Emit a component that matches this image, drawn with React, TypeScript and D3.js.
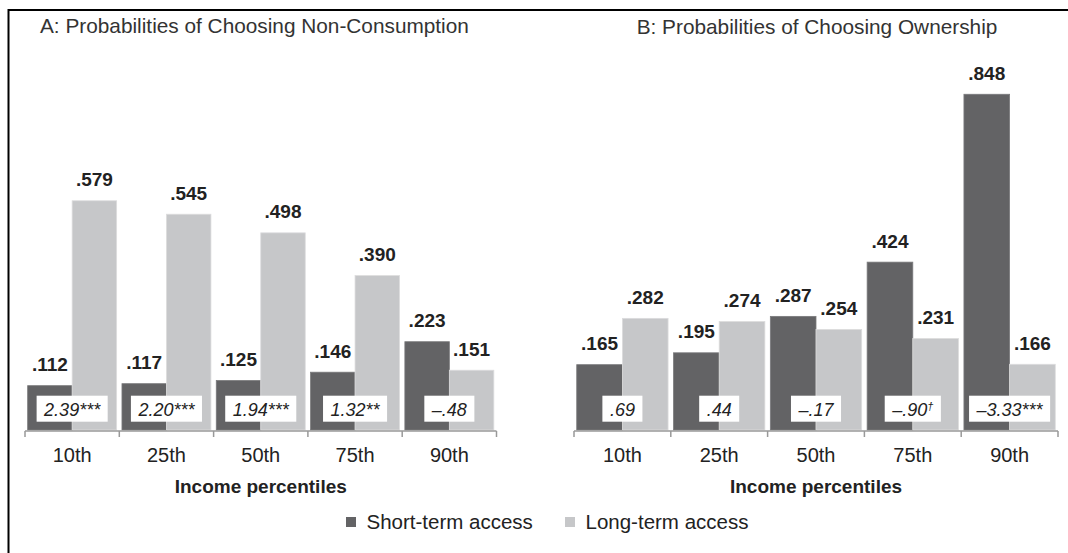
import React, { useEffect, useRef } from "react";
import * as d3 from "d3";

// income percentile groups
const categories = ["10th", "25th", "50th", "75th", "90th"];
const seriesNames = ["Short-term access", "Long-term access"];

// panel A: non-consumption
const nonConsShort = [0.112, 0.117, 0.125, 0.146, 0.223];
const nonConsLong = [0.579, 0.545, 0.498, 0.39, 0.151];
const nonConsDiff = ["2.39***", "2.20***", "1.94***", "1.32**", "\u2013.48"];

// panel B: ownership
const ownShort = [0.165, 0.195, 0.287, 0.424, 0.848];
const ownLong = [0.282, 0.274, 0.254, 0.231, 0.166];
const ownDiff = [".69", ".44", "\u2013.17", "\u2013.90\u2020", "\u20133.33***"];

const colors = ["#636365", "#c6c7c9"];
const FONT = "'Liberation Sans', Arial, sans-serif";

const fmt = (v: number) => d3.format(".3f")(v).replace(/^0/, "");

const App = () => {
  const ref = useRef<SVGSVGElement>(null);

  useEffect(() => {
    const svg = d3.select(ref.current);
    svg.selectAll("*").remove();

    // frame (only top/left visible)
    svg
      .append("rect")
      .attr("x", 8.5)
      .attr("y", 10)
      .attr("width", 1200)
      .attr("height", 700)
      .attr("fill", "none")
      .attr("stroke", "#000")
      .attr("stroke-width", 2);

    const y = d3.scaleLinear().domain([0, 1]).range([430, 34.1]);

    const panels = [
      {
        title: "A: Probabilities of Choosing Non-Consumption",
        titleX: 40,
        titleY: 33,
        range: [25, 496.5],
        short: nonConsShort,
        long: nonConsLong,
        diff: nonConsDiff,
      },
      {
        title: "B: Probabilities of Choosing Ownership",
        titleX: 636.7,
        titleY: 33.5,
        range: [574, 1058],
        short: ownShort,
        long: ownLong,
        diff: ownDiff,
      },
    ];

    panels.forEach((p) => {
      const g = svg.append("g");
      const x0 = d3.scaleBand().domain(categories).range(p.range as [number, number]);
      const x1 = d3
        .scaleBand()
        .domain(seriesNames)
        .range([0, x0.bandwidth()])
        .paddingOuter(0.06);

      g.append("text")
        .attr("x", p.titleX)
        .attr("y", p.titleY)
        .attr("font-family", FONT)
        .attr("font-size", 20.8)
        .attr("fill", "#333")
        .text(p.title);

      const rows = categories.map((c, i) => ({ c, vals: [p.short[i], p.long[i]], diff: p.diff[i] }));

      const grp = g
        .selectAll("g.grp")
        .data(rows)
        .join("g")
        .attr("class", "grp")
        .attr("transform", (d) => `translate(${x0(d.c)},0)`);

      grp
        .selectAll("rect.bar")
        .data((d) => d.vals.map((v, k) => ({ v, k })))
        .join("rect")
        .attr("class", "bar")
        .attr("x", (d) => x1(seriesNames[d.k])!)
        .attr("width", x1.bandwidth())
        .attr("y", (d) => y(d.v))
        .attr("height", (d) => y(0) - y(d.v))
        .attr("fill", (d) => colors[d.k])
        .attr("stroke", (d) => (d.k === 0 ? "#7a7a7c" : "#dcdcdd"))
        .attr("stroke-width", 0.8);

      grp
        .selectAll("text.val")
        .data((d) => d.vals.map((v, k) => ({ v, k })))
        .join("text")
        .attr("class", "val")
        .attr("x", (d) => x1(seriesNames[d.k])! + x1.bandwidth() / 2)
        .attr("y", (d) => y(d.v) - 14.6)
        .attr("text-anchor", "middle")
        .attr("font-family", FONT)
        .attr("font-size", 19)
        .attr("font-weight", "bold")
        .attr("fill", "#222")
        .text((d) => fmt(d.v));

      // difference annotation boxes
      grp.each(function (d) {
        const cell = d3.select(this);
        const cx = x0.bandwidth() / 2;
        const box = cell.append("rect").attr("fill", "#fff");
        const t = cell
          .append("text")
          .attr("x", cx)
          .attr("y", 416)
          .attr("text-anchor", "middle")
          .attr("font-family", FONT)
          .attr("font-size", 18)
          .attr("font-style", "italic")
          .attr("fill", "#222");
        const dag = d.diff.endsWith("\u2020");
        t.append("tspan").text(dag ? d.diff.slice(0, -1) : d.diff);
        if (dag) {
          t.append("tspan").attr("font-size", 11).attr("dy", -6).text("\u2020");
        }
        const w = (t.node() as SVGTextElement).getComputedTextLength();
        box
          .attr("x", cx - w / 2 - 7.5)
          .attr("y", 395.7)
          .attr("width", w + 15)
          .attr("height", 26);
      });

      // axis
      const axisG = g.append("g").attr("transform", `translate(0,${431})`);
      axisG
        .append("line")
        .attr("x1", p.range[0])
        .attr("x2", p.range[1])
        .attr("stroke", "#999")
        .attr("stroke-width", 1.5);
      const edges = categories.map((c) => x0(c)!).concat([p.range[1]]);
      axisG
        .selectAll("line.tick")
        .data(edges)
        .join("line")
        .attr("class", "tick")
        .attr("x1", (d) => d)
        .attr("x2", (d) => d)
        .attr("y1", 0)
        .attr("y2", 6)
        .attr("stroke", "#999")
        .attr("stroke-width", 1.5);
      axisG
        .selectAll("text.lbl")
        .data(categories)
        .join("text")
        .attr("class", "lbl")
        .attr("x", (d) => x0(d)! + x0.bandwidth() / 2)
        .attr("y", 30.7)
        .attr("text-anchor", "middle")
        .attr("font-family", FONT)
        .attr("font-size", 20)
        .attr("fill", "#222")
        .text((d) => d);

      g.append("text")
        .attr("x", (p.range[0] + p.range[1]) / 2)
        .attr("y", 493.3)
        .attr("text-anchor", "middle")
        .attr("font-family", FONT)
        .attr("font-size", 19)
        .attr("font-weight", "bold")
        .attr("fill", "#222")
        .text("Income percentiles");
    });

    // legend
    const legendX = [346, 565];
    const lg = svg
      .selectAll("g.leg")
      .data(seriesNames)
      .join("g")
      .attr("class", "leg")
      .attr("transform", (d, i) => `translate(${legendX[i]},517)`);
    lg.append("rect")
      .attr("width", 10)
      .attr("height", 10)
      .attr("fill", (d, i) => colors[i]);
    lg.append("text")
      .attr("x", 20.5)
      .attr("y", 12.3)
      .attr("font-family", FONT)
      .attr("font-size", 20.5)
      .attr("fill", "#222")
      .text((d) => d);
  }, []);

  return (
    <svg
      ref={ref}
      width={1068}
      height={553}
      style={{ position: "absolute", left: 0, top: 0, background: "#fff" }}
    />
  );
};

export default App;
